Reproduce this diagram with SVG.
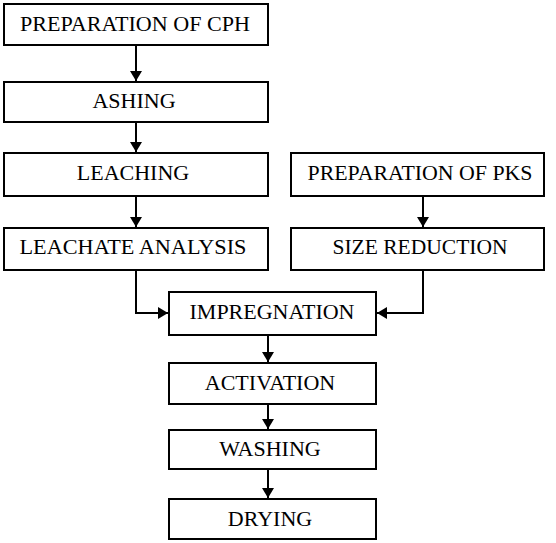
<svg xmlns="http://www.w3.org/2000/svg" width="556" height="543" viewBox="0 0 556 543">
<style>
.box{fill:#fff;stroke:#000;stroke-width:2}
.lbl{font-family:"Liberation Serif","Times New Roman",serif;font-size:22px;fill:#000;text-anchor:middle}
.con{fill:none;stroke:#000;stroke-width:2}
</style>
<defs>
<marker id="ah" markerWidth="10" markerHeight="12" refX="10" refY="6" orient="auto" markerUnits="userSpaceOnUse">
<path d="M0,0 L10,6 L0,12 Z" fill="#000"/>
</marker>
</defs>
<rect width="556" height="543" fill="#fff"/>
<g id="connectors">
<path class="con" d="M136,45 V81" marker-end="url(#ah)"/>
<path class="con" d="M136,122 V152" marker-end="url(#ah)"/>
<path class="con" d="M136,196 V227" marker-end="url(#ah)"/>
<path class="con" d="M423,196 V227" marker-end="url(#ah)"/>
<path class="con" d="M136,270 V313 H168" marker-end="url(#ah)"/>
<path class="con" d="M423,270 V313 H377" marker-end="url(#ah)"/>
<path class="con" d="M268,335 V362" marker-end="url(#ah)"/>
<path class="con" d="M268,404 V429" marker-end="url(#ah)"/>
<path class="con" d="M268,469 V498" marker-end="url(#ah)"/>
</g>
<g id="cph"><rect class="box" x="4" y="4" width="264" height="41"/><text class="lbl" x="135" y="31" textLength="230" lengthAdjust="spacingAndGlyphs">PREPARATION OF CPH</text></g>
<g id="ashing"><rect class="box" x="4" y="82" width="264" height="40"/><text class="lbl" x="134" y="108">ASHING</text></g>
<g id="leaching"><rect class="box" x="4" y="153" width="264" height="43"/><text class="lbl" x="133" y="180">LEACHING</text></g>
<g id="leachate"><rect class="box" x="4" y="228" width="264" height="42"/><text class="lbl" x="133" y="254" textLength="227" lengthAdjust="spacingAndGlyphs">LEACHATE ANALYSIS</text></g>
<g id="pks"><rect class="box" x="291" y="153" width="253" height="43"/><text class="lbl" x="420" y="180" textLength="225" lengthAdjust="spacingAndGlyphs">PREPARATION OF PKS</text></g>
<g id="size"><rect class="box" x="291" y="228" width="253" height="42"/><text class="lbl" x="420" y="254" textLength="175" lengthAdjust="spacingAndGlyphs">SIZE REDUCTION</text></g>
<g id="impregnation"><rect class="box" x="169" y="292" width="207" height="43"/><text class="lbl" x="272" y="319">IMPREGNATION</text></g>
<g id="activation"><rect class="box" x="169" y="363" width="207" height="41"/><text class="lbl" x="270" y="390">ACTIVATION</text></g>
<g id="washing"><rect class="box" x="169" y="430" width="207" height="39"/><text class="lbl" x="270" y="456">WASHING</text></g>
<g id="drying"><rect class="box" x="169" y="499" width="207" height="40"/><text class="lbl" x="270" y="526">DRYING</text></g>
</svg>
